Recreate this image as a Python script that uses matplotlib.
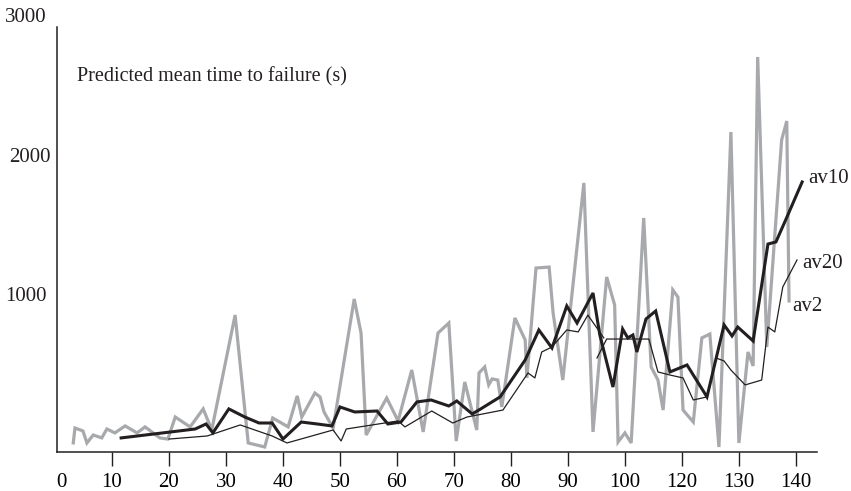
import matplotlib
matplotlib.use('Agg')
import matplotlib.pyplot as plt
import numpy as np

# x positions are in axis-tick units (tick labels skip 110 in the source chart)
av2_x = [3.2, 3.5, 4.9, 5.6, 6.7, 8.2, 9.1, 10.5, 12.3, 14.4, 15.8, 18.4, 19.8, 21.1,
         23.7, 26.0, 27.5, 31.6, 33.9, 36.8, 38.2, 40.9, 42.5, 43.3, 45.6, 46.5, 47.2,
         48.8, 52.5, 53.7, 54.6, 58.2, 60.2, 62.6, 64.6, 67.2, 69.1, 70.4, 71.9, 74.0,
         74.4, 75.4, 76.1, 76.7, 77.7, 78.4, 80.7, 82.5, 82.8, 84.4, 86.7, 87.4, 89.1,
         92.8, 94.4, 96.8, 98.2, 98.8, 100.0, 101.1, 103.3, 104.6, 105.8, 106.7, 108.4,
         109.3, 110.2, 112.0, 113.5, 114.9, 116.5, 118.6, 120.0, 121.6, 122.5, 123.3,
         124.9, 127.5, 128.4, 128.8]
av2_y = [-50, 57, 36, -50, 7, -14, 50, 22, 72, 22, 65, -14, -22, 136,
         65, 194, 43, 867, -50, -79, 129, 65, 287, 136, 308, 280, 172,
         57, 982, 738, 7, 272, 108, 473, 29, 738, 810, -36, 387, 43,
         452, 495, 366, 409, 401, 208, 846, 688, 416, 1204, 1211, 882, 401,
         1814, 29, 1140, 939, -43, 22, -50, 1563, 495, 401, 186, 1047,
         996, 186, 100, 703, 731, -79, 2179, -50, 602, 502, 2717,
         638, 2122, 2258, 968]

av10_x = [11.6, 24.6, 26.5, 27.7, 30.5, 33.3, 35.8, 38.1, 40.0, 43.2, 46.0, 48.6, 50.0,
          52.6, 56.5, 58.4, 60.7, 63.5, 66.0, 69.1, 70.5, 73.2, 74.7, 78.1, 82.5, 84.9,
          87.2, 89.8, 91.6, 94.4, 95.6, 97.9, 99.6, 100.5, 101.4, 102.1, 103.7, 105.4,
          107.9, 110.9, 114.4, 117.4, 118.8, 119.8, 122.5, 125.1, 126.5, 128.2, 131.1]
av10_y = [-14, 50, 86, 22, 194, 136, 93, 93, -22, 100, 86, 72, 208,
          172, 179, 86, 100, 244, 258, 215, 251, 158, 194, 280, 545, 760,
          631, 932, 810, 1025, 724, 351, 767, 703, 724, 602, 839, 896,
          459, 509, 280, 796, 717, 781, 681, 1376, 1391, 1548, 1821]

av20_x = [20.0, 26.7, 32.5, 38.1, 40.7, 48.8, 50.2, 51.1, 60.2, 61.4, 66.1, 69.8, 72.3,
          78.6, 83.0, 84.2, 85.4, 87.2, 89.8, 91.8, 93.5, 96.3, np.nan,
          95.1, 96.8, 104.2, 105.8, 107.9, 110.2, 112.0, 114.4, 116.0, 117.4, 118.6,
          121.1, 124.0, 125.1, 126.3, 127.7, 130.2]
av20_y = [-22, 0, 79, 0, -50, 43, -36, 50, 108, 65, 179, 93, 136,
          186, 452, 416, 602, 638, 760, 746, 867, 703, np.nan,
          559, 695, 695, 459, 437, 416, 258, 280, 559, 538, 473,
          366, 401, 781, 746, 1068, 1262]

xtick_pos = [10, 20, 30, 40, 50, 60, 70, 80, 90, 100, 110, 120, 130]
xtick_labels = ['10', '20', '30', '40', '50', '60', '70', '80', '90', '100', '120', '130', '140']
ytick_vals = [1000, 2000, 3000]

plt.rcParams['font.family'] = ['Liberation Serif', 'DejaVu Serif']

fig = plt.figure(figsize=(8.51, 4.91), dpi=100)
ax = fig.add_axes([0.067, 0.0794, 0.893, 0.8656])

gray = '#a7a9ac'
black = '#231f20'
ax.plot(av2_x, av2_y, color=gray, linewidth=2.3, solid_joinstyle='miter')
ax.plot(av20_x, av20_y, color=black, linewidth=0.9)
ax.plot(av10_x, av10_y, color=black, linewidth=2.2, solid_joinstyle='miter')

ax.set_xlim(0.35, 133.7)
ax.set_ylim(-115, 2932)

for s in ['top', 'right']:
    ax.spines[s].set_visible(False)
for s in ['left', 'bottom']:
    ax.spines[s].set_color(black)
    ax.spines[s].set_linewidth(1.1)

ax.set_xticks(xtick_pos, xtick_labels)
ax.set_xticks([1.2], ['0'], minor=True)
ax.tick_params(axis='x', which='major', direction='out', length=10, width=1,
               color=black, pad=5, labelsize=15)
ax.tick_params(axis='x', which='minor', length=0, pad=15, labelsize=15)
ax.set_yticks([])

for v in ytick_vals:
    xoff = -0.008 if v == 2000 else -0.014
    ax.text(xoff, v, str(v), transform=ax.get_yaxis_transform(),
            ha='right', va='center', fontsize=15, color=black, clip_on=False)

ax.text(3.9, 2573, 'Predicted mean time to failure (s)', fontsize=14.5,
        color=black, ha='left', va='center')

# series labels next to line ends
ax.text(132.1, 1849, 'av10', fontsize=15, color=black, ha='left', va='center', clip_on=False)
ax.text(131.2, 1240, 'av20', fontsize=15, color=black, ha='left', va='center', clip_on=False)
ax.text(129.3, 925, 'av2', fontsize=15, color=black, ha='left', va='center', clip_on=False)

fig.savefig('out.png', dpi=100, facecolor='white')
